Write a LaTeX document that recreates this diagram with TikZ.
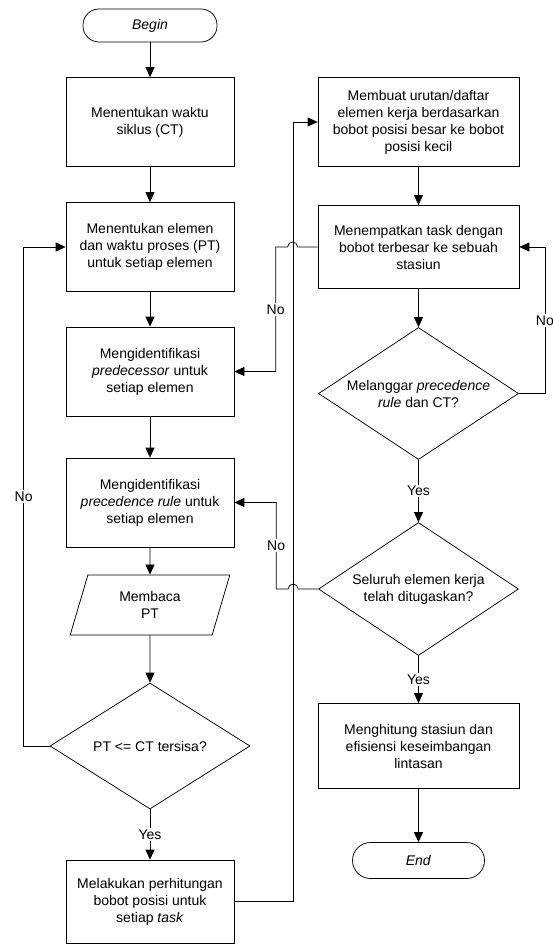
\documentclass[tikz,border=0pt]{standalone}
\usepackage{fontspec}
\setmainfont{Liberation Sans}
\usepackage{tikz}
\usetikzlibrary{shapes, arrows.meta}
\tikzstyle{block} = [draw, rectangle, line width=0.75pt, minimum width=168pt, minimum height=89pt, align=center]
\tikzstyle{term} = [draw, rectangle, rounded corners=16pt, line width=0.75pt, minimum width=134pt, minimum height=33pt]
\tikzstyle{io} = [draw, trapezium, trapezium left angle=74, trapezium right angle=106, trapezium stretches=true, line width=0.75pt, minimum width=160pt, minimum height=60pt, align=center]
\tikzstyle{decision} = [draw, diamond, aspect=1.5, inner sep=0pt, line width=0.75pt, minimum width=200pt, minimum height=126pt, align=center]
\tikzstyle{wire} = [-{Triangle[length=10pt,width=9pt]}, line width=0.75pt]
\tikzstyle{lbl} = [fill=white, inner sep=1.5pt]

\begin{document}
\begin{tikzpicture}[font=\fontsize{14}{17}\selectfont]
    \useasboundingbox (0,0) rectangle (553pt,-944pt);
    % left column
    \node[term] (start) at (150pt,-25.5pt) {\textit{Begin}};
    \node[block, below of=start, node distance=96.5pt] (siklus) {Menentukan waktu\\siklus (CT)};
    \node[block, below of=siklus, node distance=125pt] (elemen) {Menentukan elemen\\dan waktu proses (PT)\\untuk setiap elemen};
    \node[block, below of=elemen, node distance=124.5pt] (predec) {Mengidentifikasi\\\textit{predecessor} untuk\\setiap elemen};
    \node[block, below of=predec, node distance=131pt] (rule) {Mengidentifikasi\\\textit{precedence rule} untuk\\setiap elemen};
    \node[io, below of=rule, node distance=102.5pt] (baca) {Membaca\\PT};
    \node[decision, below of=baca, node distance=141pt] (sisa) {PT <= CT tersisa?};
    \node[block, below of=sisa, node distance=155.5pt, minimum height=83pt] (bobot) {Melakukan perhitungan\\bobot posisi untuk\\setiap \textit{task}};
    % right column
    \node[block, right of=siklus, node distance=268.5pt, minimum width=201pt] (urutan) {Membuat urutan/daftar\\elemen kerja berdasarkan\\bobot posisi besar ke bobot\\posisi kecil};
    \node[block, below of=urutan, node distance=125pt, minimum width=201pt, minimum height=83pt] (tempat) {Menempatkan task dengan\\bobot terbesar ke sebuah\\stasiun};
    \node[decision, below of=tempat, node distance=146.5pt, minimum height=132pt] (langgar) {Melanggar \textit{precedence}\\\textit{rule} dan CT?};
    \node[decision, below of=langgar, node distance=195.5pt, minimum height=133pt] (seluruh) {Seluruh elemen kerja\\telah ditugaskan?};
    \node[block, below of=seluruh, node distance=157pt, minimum width=201pt, minimum height=85pt] (stasiun) {Menghitung stasiun dan\\efisiensi keseimbangan\\lintasan};
    \node[term, below of=stasiun, node distance=114.5pt, minimum width=132pt, minimum height=36pt, rounded corners=18pt] (finish) {\textit{End}};

    \draw[wire] (start) -- (siklus);
    \draw[wire] (siklus) -- (elemen);
    \draw[wire] (elemen) -- (predec);
    \draw[wire] (predec) -- (rule);
    \draw[wire] (rule) -- (baca);
    \draw[wire] (baca) -- (sisa);
    \draw[wire] (sisa) -- node[lbl] {Yes} (bobot);
    \draw[wire] (sisa.west) -- ++(-26pt,0) |- node[lbl, pos=0.25] {No} (elemen.west);
    \draw[wire] (bobot.east) -- ++(59pt,0) |- (urutan.west);
    \draw[wire] (urutan) -- (tempat);
    \draw[wire] (tempat.west) -- ++(-20pt,0) arc[start angle=0, end angle=180, radius=5pt] -- ++(-12pt,0) |- node[lbl, pos=0.25] {No} (predec.east);
    \draw[wire] (tempat) -- (langgar);
    \draw[wire] (langgar.east) -- ++(26pt,0) |- node[lbl, pos=0.25] {No} (tempat.east);
    \draw[wire] (langgar) -- node[lbl] {Yes} (seluruh);
    \draw[wire] (seluruh.west) -- ++(-20pt,0) arc[start angle=0, end angle=180, radius=5pt] -- ++(-12pt,0) |- node[lbl, pos=0.25] {No} (rule.east);
    \draw[wire] (seluruh) -- node[lbl] {Yes} (stasiun);
    \draw[wire] (stasiun) -- (finish);
  \end{tikzpicture}
\end{document}
